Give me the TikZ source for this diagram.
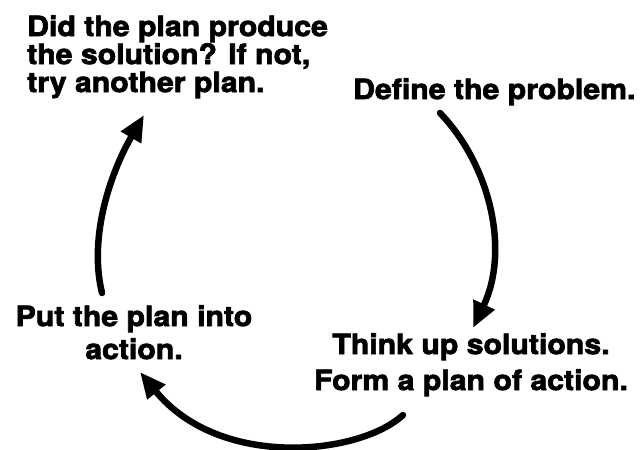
\documentclass[tikz,border=0pt]{standalone}
\usepackage{fontspec}
\newfontfamily\heavy{texgyreheros-bold.otf}[FakeStretch=1.08, FakeBold=2.5]
\usetikzlibrary{arrows.meta}
\begin{document}
\begin{tikzpicture}[x=1pt,y=-1pt,
  lab/.style={inner sep=0pt, font=\heavy\fontsize{28}{#1}\selectfont},
  lab/.default=28,
  flow/.style={line width=6.5pt, line cap=round, -{Triangle[length=26pt,width=22pt]}}]
\useasboundingbox (0,0) rectangle (643,450);
\node[lab=28, anchor=north west, align=left] (check) at (27,15)
  {Did the plan produce\\the solution? If not,\\try another plan.};
\node[lab, anchor=north west] (def) at (353,78) {Define the problem.};
\node[lab=36, anchor=north, align=center] (think) at (471,333)
  {Think up solutions.\\Form a plan of action.};
\node[lab=33, anchor=north, align=center] (put) at (134,305)
  {Put the plan into\\action.};
% connector end points
\coordinate (d1) at (440,113);
\coordinate (t1) at (473,328);
\coordinate (t2) at (403,415);
\coordinate (p1) at (140,372);
\coordinate (p2) at (102,293);
\coordinate (c1) at (144,115);
\draw[flow] (d1) .. controls (490,165) and (510,250) .. (t1);
\draw[flow] (t2) .. controls (360,455) and (220,470) .. (p1);
\draw[flow] (p2) .. controls (88,235) and (112,170) .. (c1);
\end{tikzpicture}
\end{document}
